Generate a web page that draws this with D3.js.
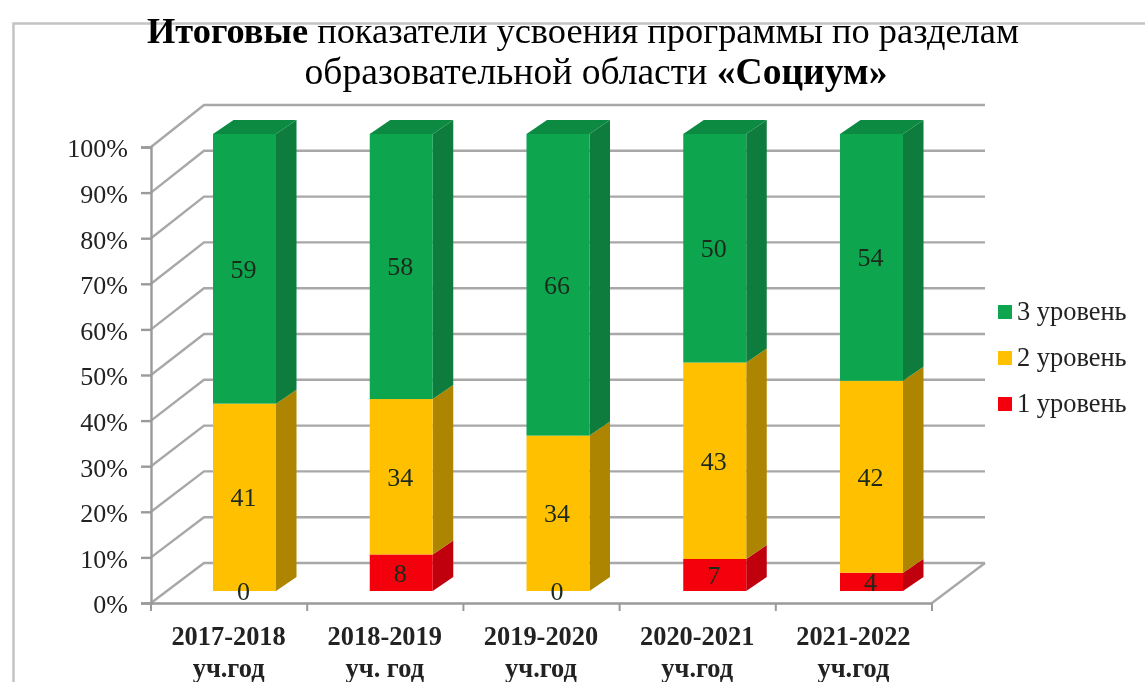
<!DOCTYPE html>
<meta charset="utf-8">
<style>
html, body { margin: 0; background: #fff; }
text { font-family: "Liberation Serif", serif; fill: #222; }
.title { font-size: 36.4px; fill: #000; }
.title2 { font-size: 37.6px; }
.tick-label { font-size: 26px; }
.cat { font-size: 26.4px; font-weight: bold; }
.val { font-size: 26px; fill: #1c2a1c; }
.leg { font-size: 26.4px; }
</style>
<body>
<script src="https://cdn.jsdelivr.net/npm/d3@7"></script>
<script>

var categories = ["2017-2018", "2018-2019", "2019-2020", "2020-2021", "2021-2022"],
    catSuffix = ["уч.год", "уч. год", "уч.год", "уч.год", "уч.год"];

var level1 = [0, 8, 0, 7, 4],
    level2 = [41, 34, 34, 43, 42],
    level3 = [59, 58, 66, 50, 54];

var levelNames = ["1 уровень", "2 уровень", "3 уровень"],
    faceColors = ["#f40008", "#ffc000", "#0ca650"],
    sideColors = ["#c00010", "#ad8500", "#0a7c3c"];

var yTicks = [0, 10, 20, 30, 40, 50, 60, 70, 80, 90, 100];

var width = 1145,
    height = 682;

var svg = d3.select("body").append("svg")
    .attr("width", width)
    .attr("height", height)
    .style("display", "block");

// the source picture is a soft, low resolution scan
var soft = svg.append("defs").append("filter")
    .attr("id", "soft");
soft.append("feGaussianBlur").attr("stdDeviation", 0.75);

var root = svg.append("g").attr("filter", "url(#soft)");

// page frame
root.append("path")
    .attr("d", "M13.5,682V23.5H1145")
    .attr("fill", "none")
    .attr("stroke", "#c4c4c4")
    .attr("stroke-width", 2.5);

// title
var title = root.append("text")
    .attr("class", "title")
    .attr("text-anchor", "middle");
var line1 = title.append("tspan").attr("x", 583).attr("y", 43);
line1.append("tspan").attr("font-weight", "bold").text("Итоговые");
line1.append("tspan").text(" показатели усвоения программы по разделам");
var line2 = title.append("tspan").attr("class", "title2").attr("x", 596).attr("y", 84);
line2.append("tspan").text("образовательной области ");
line2.append("tspan").attr("font-weight", "bold").text("«Социум»");

// scales: front edge of the floor, back wall, bars
var x = d3.scaleBand().domain(categories).range([151, 932]);
var y = d3.scaleLinear().domain([0, 100]).range([603, 147]);
var yBack = d3.scaleLinear().domain([0, 100]).range([563, 105]);
var yBar = d3.scaleLinear().domain([0, 100]).range([591, 134]);
var xBar = d3.scalePoint().domain(categories).range([213, 840]);

var backDx = 53,
    sideDx = 20.5, sideDy = -14,
    barWidth = 63;

// gridlines on the walls
var grid = root.append("g")
    .attr("fill", "none")
    .attr("stroke", "#a8a8a8")
    .attr("stroke-width", 2.4);

grid.selectAll("path")
    .data(yTicks)
  .enter().append("path")
    .attr("d", function(d) {
      return "M" + x.range()[0] + "," + y(d) +
        "L" + (x.range()[0] + backDx) + "," + yBack(d) +
        "H" + (x.range()[1] + backDx);
    });

// floor edge on the right
grid.append("path")
    .attr("d", "M" + x.range()[1] + "," + y(0) +
      "L" + (x.range()[1] + backDx) + "," + yBack(0));

// axes
var yAxis = d3.axisLeft(y)
    .tickValues(yTicks)
    .tickSize(10)
    .tickPadding(13)
    .tickFormat(function(d) { return d + "%"; });

var gy = root.append("g")
    .attr("transform", "translate(151,0)")
    .call(yAxis);
gy.selectAll("text").attr("class", "tick-label").attr("dy", "0.38em");
gy.attr("font-size", null).attr("font-family", null);
gy.selectAll("line, path").attr("stroke", "#9a9a9a").attr("stroke-width", 2.4);

var xAxis = d3.axisBottom(x)
    .tickValues([])
    .tickSizeOuter(0);
var gx = root.append("g")
    .attr("transform", "translate(0,603)")
    .call(xAxis);
gx.selectAll("path").attr("stroke", "#9a9a9a").attr("stroke-width", 2.4);

// tick marks sit between the categories, as in a 3D column chart
gx.selectAll(".sep")
    .data(categories.concat([null]))
  .enter().append("line")
    .attr("x1", function(d, i) { return x.range()[0] + i * x.step(); })
    .attr("x2", function(d, i) { return x.range()[0] + i * x.step(); })
    .attr("y1", 0)
    .attr("y2", 8)
    .attr("stroke", "#9a9a9a")
    .attr("stroke-width", 2);

var rows = categories.map(function(c, i) {
  return { cat: c, l1: level1[i], l2: level2[i], l3: level3[i] };
});

var series = d3.stack().keys(["l1", "l2", "l3"])(rows);

var layers = root.selectAll(".layer")
    .data(series)
  .enter().append("g")
    .attr("class", "layer");

// side of every segment
layers.selectAll(".side")
    .data(function(s) { return s.map(function(d) { return { d: d, i: s.index }; }); })
  .enter().append("path")
    .attr("class", "side")
    .attr("fill", function(o) { return sideColors[o.i]; })
    .attr("d", function(o) {
      var xr = xBar(o.d.data.cat) + barWidth;
      return "M" + xr + "," + yBar(o.d[0]) +
        "l" + sideDx + "," + sideDy +
        "V" + (yBar(o.d[1]) + sideDy) +
        "L" + xr + "," + yBar(o.d[1]) + "Z";
    });

// front of every segment
layers.selectAll(".face")
    .data(function(s) { return s.map(function(d) { return { d: d, i: s.index }; }); })
  .enter().append("rect")
    .attr("class", "face")
    .attr("fill", function(o) { return faceColors[o.i]; })
    .attr("x", function(o) { return xBar(o.d.data.cat); })
    .attr("y", function(o) { return yBar(o.d[1]); })
    .attr("width", barWidth)
    .attr("height", function(o) { return yBar(o.d[0]) - yBar(o.d[1]); });

// green cap
root.selectAll(".cap")
    .data(rows)
  .enter().append("path")
    .attr("class", "cap")
    .attr("fill", "#0b8a43")
    .attr("d", function(d) {
      return "M" + xBar(d.cat) + "," + yBar(100) +
        "l" + sideDx + "," + sideDy +
        "h" + barWidth +
        "l" + (-sideDx) + "," + (-sideDy) + "Z";
    });

// value labels go on top of all bars so the zero labels stay visible
var labels = root.append("g");

series.forEach(function(s) {
  labels.selectAll(".val-" + s.index)
      .data(s)
    .enter().append("text")
      .attr("class", "val val-" + s.index)
      .attr("text-anchor", "middle")
      .attr("dy", "0.34em")
      .attr("x", function(d) { return xBar(d.data.cat) + barWidth / 2 - 1; })
      .attr("y", function(d) { return yBar((d[0] + d[1]) / 2); })
      .text(function(d) { return d[1] - d[0]; });
});

// category labels
var cat = root.selectAll(".cat")
    .data(categories)
  .enter().append("text")
    .attr("class", "cat")
    .attr("text-anchor", "middle");

cat.append("tspan")
    .attr("x", function(d) { return x(d) + x.step() / 2 - 0.5; })
    .attr("y", 645)
    .text(function(d) { return d; });

cat.append("tspan")
    .attr("x", function(d) { return x(d) + x.step() / 2 - 0.5; })
    .attr("y", 677)
    .text(function(d, i) { return catSuffix[i]; });

// legend, top entry is the top of the stack
var legendY = d3.scalePoint().domain(levelNames.slice().reverse()).range([312, 404]);

var legend = root.selectAll(".legend")
    .data(levelNames)
  .enter().append("g")
    .attr("class", "legend")
    .attr("transform", function(d) { return "translate(998," + legendY(d) + ")"; });

legend.append("rect")
    .attr("y", -7)
    .attr("width", 14)
    .attr("height", 14)
    .attr("fill", function(d, i) { return faceColors[i]; });

legend.append("text")
    .attr("class", "leg")
    .attr("x", 19)
    .attr("dy", "0.3em")
    .text(function(d) { return d; });

</script>
</body>
